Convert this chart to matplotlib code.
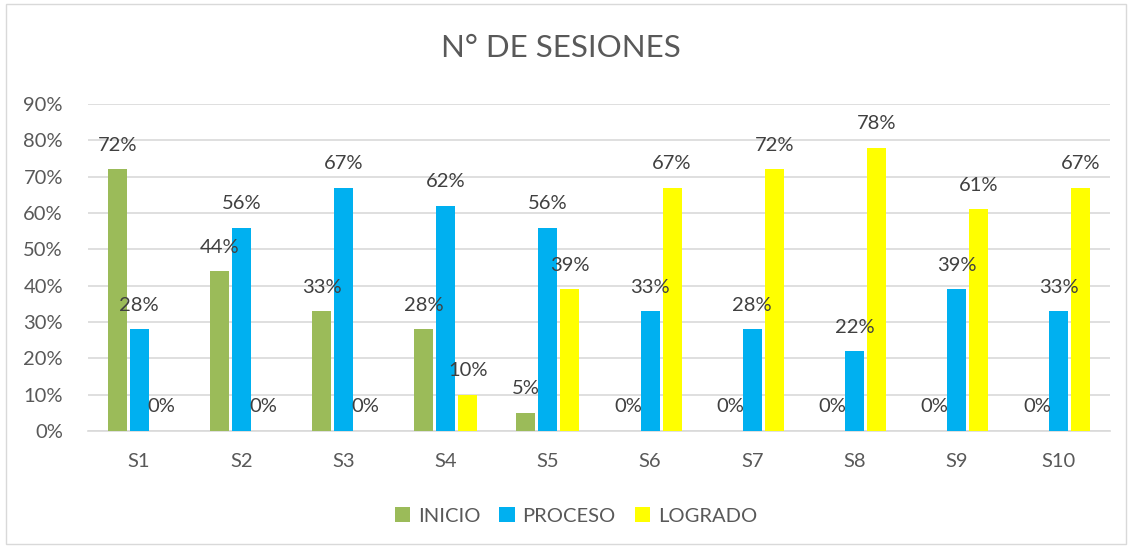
import numpy as np
import matplotlib
matplotlib.use('Agg')
import matplotlib.pyplot as plt
from matplotlib.patches import Rectangle

plt.rcParams['font.family'] = ['Lato', 'DejaVu Sans']

# Chart data
sesiones = ['S1', 'S2', 'S3', 'S4', 'S5', 'S6', 'S7', 'S8', 'S9', 'S10']
inicio = [72, 44, 33, 28, 5, 0, 0, 0, 0, 0]
proceso = [28, 56, 67, 62, 56, 33, 28, 22, 39, 33]
logrado = [0, 0, 0, 10, 39, 67, 72, 78, 61, 67]
series_names = ['INICIO', 'PROCESO', 'LOGRADO']
colors = ['#9BBB59', '#00B0F0', '#FFFF00']

fig = plt.figure(figsize=(11.32, 5.48), dpi=100)
ax = fig.add_axes([88/1132, (548-431)/548, (1110-88)/1132, (431-104)/548])

x = np.arange(len(sesiones))
width = 0.186
step = 0.215
text_col = '#595959'
fs = 14.5

for k, (vals, name, col) in enumerate(zip([inicio, proceso, logrado], series_names, colors)):
    pos = x + (k - 1) * step
    ax.bar(pos, np.array(vals) / 100, width=width, color=col, label=name, zorder=3)
    for p, v in zip(pos, vals):
        ax.annotate(f'{v}%', (p, v / 100), xytext=(0, 24), textcoords='offset pixels',
                    ha='center', va='center', fontsize=fs, color='#404040', zorder=4)

ax.set_xlim(-0.5, len(sesiones) - 0.5)
ax.set_ylim(0, 0.9)
ax.set_yticks(np.arange(0, 0.91, 0.1))
ax.set_yticklabels([f'{int(round(t*100))}%' for t in np.arange(0, 0.91, 0.1)])
ax.set_xticks(x)
ax.set_xticklabels(sesiones)
ax.tick_params(axis='both', length=0, labelsize=fs, colors=text_col)
ax.tick_params(axis='x', pad=16)
ax.tick_params(axis='y', pad=18)
ax.yaxis.grid(True, color='#D9D9D9', linewidth=1.2, zorder=0)
for s in ['top', 'right', 'left']:
    ax.spines[s].set_visible(False)
ax.spines['bottom'].set_color('#D9D9D9')
ax.spines['bottom'].set_linewidth(1.2)

fig.text(561/1132, 1 - 48/548, 'N° DE SESIONES', ha='center', va='center',
         fontsize=22.5, color=text_col)

fig.legend(loc='center', bbox_to_anchor=(576/1132, 1 - 516/548), ncol=3, frameon=False,
           fontsize=fs, labelcolor=text_col, handlelength=0.75, handleheight=0.75,
           columnspacing=0.95, handletextpad=0.4)

fig.patches.append(Rectangle((6/1132, 4/548), 1120/1132, 540/548, transform=fig.transFigure,
                             fill=False, edgecolor='#D9D9D9', linewidth=1))

fig.savefig('out.png', dpi=100)
